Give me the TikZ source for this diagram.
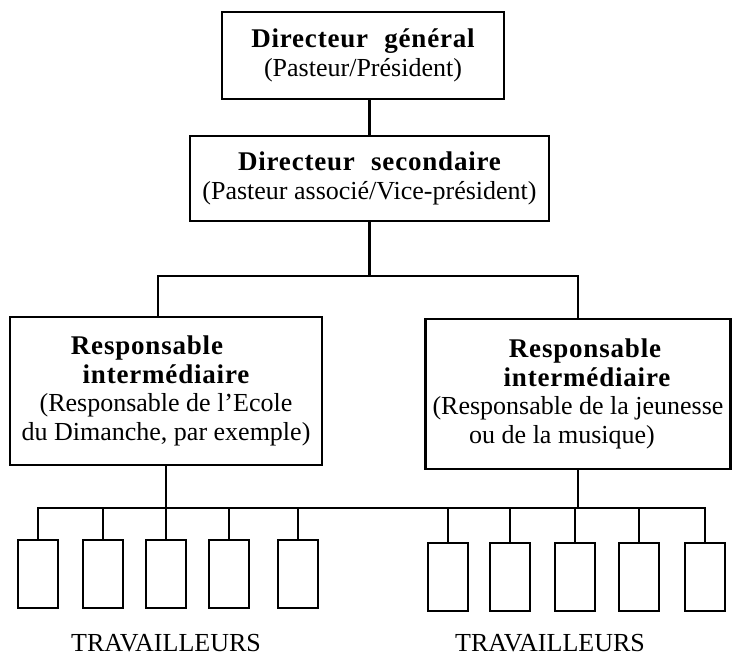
\documentclass[tikz,border=0pt]{standalone}
\usepackage{fontspec}
\setmainfont{Liberation Serif}
\usepackage{tikz}

\tikzset{
  boite/.style={draw, line width=2.6pt, align=center, inner sep=0pt},
  travailleur/.style={draw, line width=2.6pt, minimum width=40pt,
    minimum height=68pt, inner sep=0pt},
  lien/.style={line width=2.6pt, line cap=rect},
}
\newcommand{\titre}[1]{{\fontsize{27}{28.5}\bfseries\addfontfeature{LetterSpace=3}#1}}

\begin{document}
\begin{tikzpicture}[x=1pt, y=-1pt, font=\fontsize{26}{28.5}\selectfont]
\useasboundingbox (0,0) rectangle (732,657);

% Direction
\node[boite, minimum width=282pt, minimum height=87pt] (dg) at (363,55.5)
  {\titre{Directeur\hspace{0.6em}général}\\(Pasteur/Président)};
\node[boite, minimum width=359pt, minimum height=85pt] (ds) at (369.5,178.5)
  {\titre{Directeur\hspace{0.6em}secondaire}\\(Pasteur associé/Vice-président)};

% Responsables intermédiaires
\node[boite, minimum width=312pt, minimum height=148pt] (ri1) at (166,391)
  {\titre{Responsable}\hspace*{38pt}\\\titre{intermédiaire}\hspace*{12pt}\\
   (Responsable de l'Ecole\\du Dimanche, par exemple)};
\node[boite, minimum width=305pt, minimum height=150pt] (ri2) at (578,394)
  {\hspace*{14pt}\titre{Responsable}\\\hspace*{18pt}\titre{intermédiaire}\\
   (Responsable de la jeunesse\\ou de la musique)\hspace*{32pt}};

\draw[lien] (ds.north |- dg.south) -- (ds.north);
\coordinate (hb) at (0,276);
\draw[lien] (ds.south) -- (ds.south |- hb);
\draw[lien] ([xshift=-8pt]ri1.north) |- (ri2.north |- hb) -- (ri2.north);

% Travailleurs
\coordinate (bus) at (0,508);
\foreach \x [count=\i] in {38,103,166,229,298}{
  \node[travailleur] (tg\i) at (\x,574) {};
  \draw[lien] (tg\i.north) -- (tg\i.north |- bus);
}
\foreach \x [count=\i] in {448,510,575,639,705}{
  \node[travailleur] (td\i) at (\x,577) {};
  \draw[lien] (td\i.north) -- (td\i.north |- bus);
}
\draw[lien] (tg1.north |- bus) -- (td5.north |- bus);
\draw[lien] (ri1.south) -- (ri1.south |- bus);
\draw[lien] (ri2.south) -- (ri2.south |- bus);

\node (tvg) at (166,643) {TRAVAILLEURS};
\node (tvd) at (550,643) {TRAVAILLEURS};
\end{tikzpicture}
\end{document}
